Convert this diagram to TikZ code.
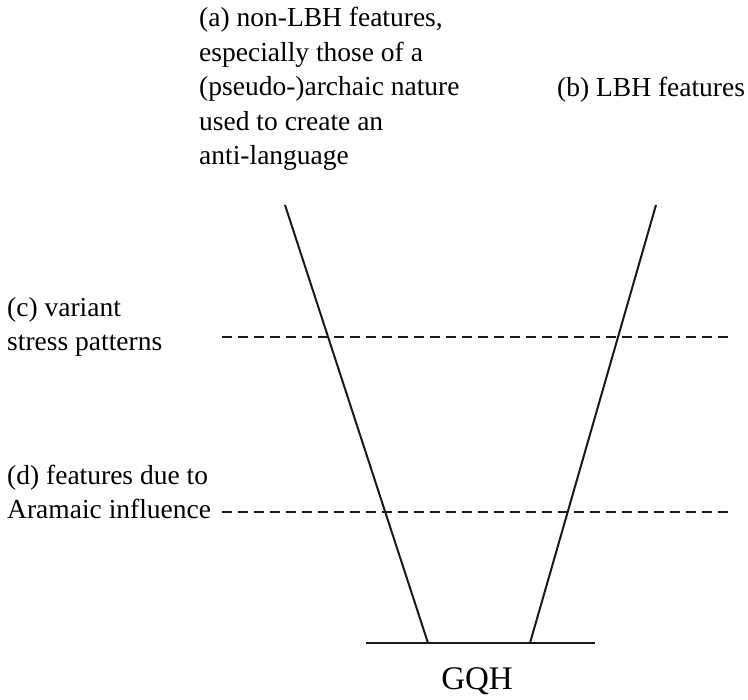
\documentclass[tikz,border=0pt]{standalone}
\usepackage{fontspec}
\setmainfont{Liberation Serif}

\tikzset{
	labeltext/.style={anchor=base west, inner sep=0pt, align=left, font=\fontsize{27.5}{34.5}\selectfont},
	stem/.style={line width=2pt, black!90},
	levelline/.style={line width=2.3pt, black!90, dash pattern=on 10pt off 6pt},
}

\begin{document}
\begin{tikzpicture}[x=1pt, y=-1pt]
		\useasboundingbox (0, 0) rectangle (748, 700);
		% multi-line labels sit on the baseline of their last line
		\node[labeltext] (a) at (199, 165) {(a) non-LBH features,\\especially those of a\\(pseudo-)archaic nature\\used to create an\\anti-language};
		\node[labeltext] (b) at (557, 97) {(b) LBH features};
		\node[labeltext] (c) at (7, 351) {(c) variant\\stress patterns};
		\node[labeltext] (d) at (7, 519) {(d) features due to\\Aramaic influence};
		\node[anchor=base, inner sep=0pt, font=\fontsize{33}{40}\selectfont] (gqh) at (477, 690) {GQH};
		\coordinate (ltop) at (285, 205);
		\coordinate (lfoot) at (428, 643);
		\coordinate (rtop) at (656, 205);
		\coordinate (rfoot) at (530, 643);
		\coordinate (bleft) at (366, 643);
		\coordinate (bright) at (595, 643);
		\foreach \n/\y in {c/337, d/512}
		{
			\coordinate (\n start) at (222, \y);
			\coordinate (\n end) at (733, \y);
			\draw[levelline] (\n start) -- (\n end);
		}
		\draw[stem] (ltop) -- (lfoot);
		\draw[stem] (rtop) -- (rfoot);
		\draw[line width=2.8pt, black!90] (bleft) -- (bright);
	\end{tikzpicture}
\end{document}
